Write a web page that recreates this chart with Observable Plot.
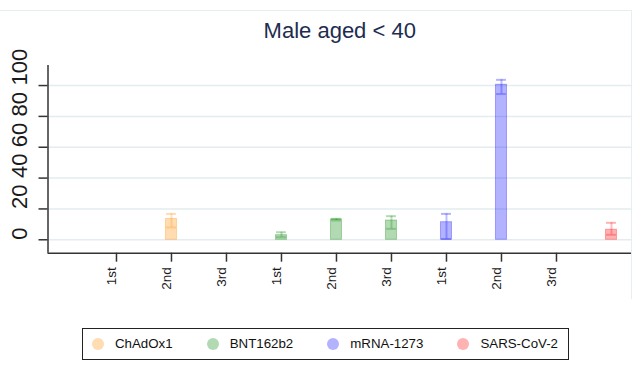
<!DOCTYPE html>
<html><head><meta charset="utf-8">
<script src="https://cdn.jsdelivr.net/npm/d3@7"></script>
<script src="https://cdn.jsdelivr.net/npm/@observablehq/plot@0.6"></script>
<style>
body{margin:0;background:#fff;font-family:"Liberation Sans",Arial,sans-serif;}
#wrap{position:relative;width:643px;height:377px;overflow:hidden;}
#deco{position:absolute;left:0;top:9.5px;width:631px;height:288px;border-top:1.5px solid #e6eef1;border-right:1.5px solid #e6eef1;pointer-events:none;}
#legend{position:absolute;left:82px;top:327.5px;width:487px;height:32.5px;border:1.5px solid #222;display:flex;align-items:center;padding-left:9px;box-sizing:border-box;font-size:13.3px;color:#111;white-space:nowrap;}
#legend .item{display:flex;align-items:center;margin-right:34px;flex-shrink:0;}
#legend .dot{width:12px;height:12px;border-radius:50%;margin-right:11px;flex-shrink:0;}
svg{display:block;}
</style>
</head><body>
<div id="wrap"><div id="deco"></div></div>
<script>
const vaccines = ["ChAdOx1", "BNT162b2", "mRNA-1273", "SARS-CoV-2"];
const colors = ["rgb(255,140,0)", "rgb(0,128,0)", "rgb(0,0,255)", "rgb(255,0,0)"];
const tickPositions = [1, 2, 3, 4, 5, 6, 7, 8, 9];
const tickLabels = ["1st", "2nd", "3rd", "1st", "2nd", "3rd", "1st", "2nd", "3rd"];
const barGroup = ["ChAdOx1", "BNT162b2", "BNT162b2", "BNT162b2", "mRNA-1273", "mRNA-1273", "SARS-CoV-2"];
const barPos = [2, 4, 5, 6, 7, 8, 10];
const barValue = [13.5, 3.0, 13.2, 12.5, 11.4, 100.5, 6.5];
const barLow = [8.0, 1.7, 12.5, 7.1, 0.5, 94.5, 3.2];
const barHigh = [16.8, 4.9, 13.6, 15.3, 16.8, 103.7, 11.0];
const yTicks = [0, 20, 40, 60, 80, 100];
const titleText = "Male aged < 40";

const xDomain = [-0.245, 10.364];
const yDomain = [-8.7, 113];
const barHalf = 0.1;
const capHalf = 0.09;

const rows = barPos.map((p, i) => ({pos: p, group: barGroup[i], value: barValue[i], lo: barLow[i], hi: barHigh[i]}));

const chart = Plot.plot({
  width: 643, height: 315,
  marginLeft: 47.5, marginRight: 12, marginTop: 65, marginBottom: 62.3,
  x: {type: "linear", domain: xDomain, axis: null, label: null},
  y: {domain: yDomain, axis: null, label: null},
  color: {domain: vaccines, range: colors},
  style: {fontFamily: "'Liberation Sans', Arial, sans-serif", background: "transparent", overflow: "visible"},
  marks: [
    Plot.ruleY(yTicks, {stroke: "#e3ecef", strokeWidth: 1.5}),
    Plot.rectY(rows, {x1: d => d.pos - barHalf, x2: d => d.pos + barHalf, y: "value", fill: "group", fillOpacity: 0.3, stroke: "group", strokeOpacity: 0.3, strokeWidth: 1}),
    Plot.ruleX(rows, {x: "pos", y1: "lo", y2: "hi", stroke: "group", strokeOpacity: 0.25, strokeWidth: 2}),
    Plot.ruleY(rows, {y: "hi", x1: d => d.pos - capHalf, x2: d => d.pos + capHalf, stroke: "group", strokeOpacity: 0.3, strokeWidth: 2}),
    Plot.ruleY(rows, {y: "lo", x1: d => d.pos - capHalf, x2: d => d.pos + capHalf, stroke: "group", strokeOpacity: 0.25, strokeWidth: 2}),
    Plot.axisY({ticks: yTicks, tickSize: 9, tickFormat: () => "", label: null, stroke: "#333", strokeWidth: 1.5}),
    Plot.axisX({ticks: tickPositions, tickSize: 9, tickFormat: () => "", label: null, stroke: "#333", strokeWidth: 1.5}),
    Plot.ruleX([xDomain[0]], {stroke: "#333", strokeWidth: 1.5}),
    Plot.ruleY([yDomain[0]], {stroke: "#333", strokeWidth: 1.5}),
    Plot.text(yTicks, {y: d => d, text: d => String(d), frameAnchor: "left", dx: -28.5, rotate: -90, fontSize: 22, fill: "#1a1a1a"}),
    Plot.text(tickPositions, {x: d => d, text: (d, i) => tickLabels[i], frameAnchor: "bottom", dy: 14, rotate: -90, textAnchor: "end", fontSize: 13.5, fill: "#1a1a1a"}),
    Plot.text([titleText], {text: d => d, frameAnchor: "top", dy: -43, fontSize: 22, fill: "#1e2d4f"})
  ]
});
const wrap = document.getElementById("wrap");
wrap.insertBefore(chart, wrap.firstChild);

const legend = document.createElement("div");
legend.id = "legend";
vaccines.forEach((v, i) => {
  const item = document.createElement("div");
  item.className = "item";
  const dot = document.createElement("span");
  dot.className = "dot";
  dot.style.background = colors[i];
  dot.style.opacity = 0.3;
  const label = document.createElement("span");
  label.textContent = v;
  item.appendChild(dot);
  item.appendChild(label);
  legend.appendChild(item);
});
wrap.appendChild(legend);
</script>
</body></html>
